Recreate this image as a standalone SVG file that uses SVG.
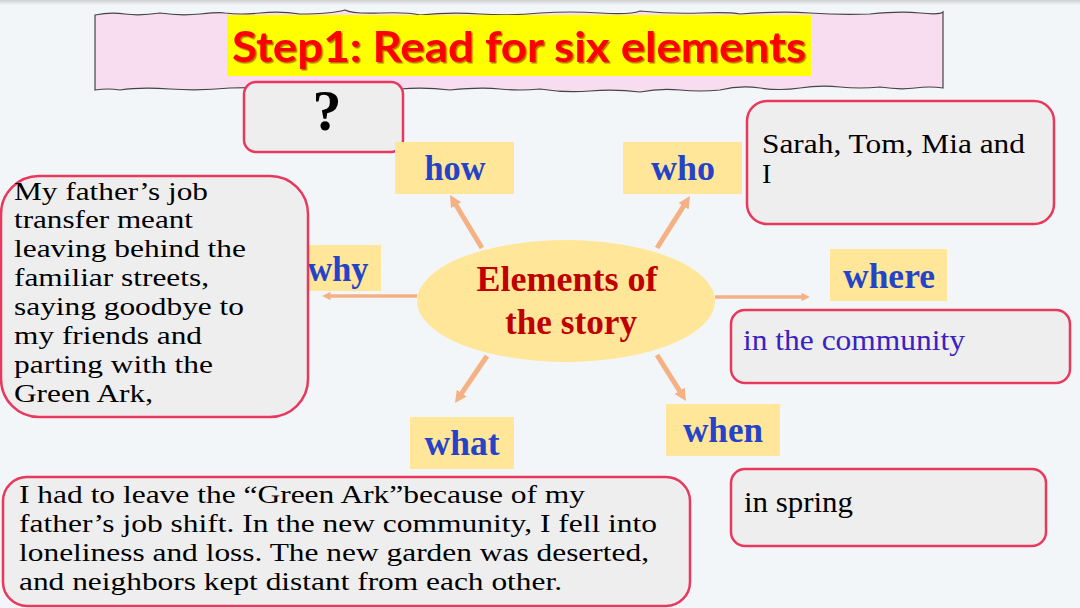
<svg xmlns="http://www.w3.org/2000/svg" width="1080" height="608" viewBox="0 0 1080 608">
<style>
.box{fill:#efeeef;stroke:#e8385e;stroke-width:2.5}
.lbl{fill:#ffe699}
.lt{font-family:'Liberation Serif','Times New Roman',serif;font-weight:bold;font-size:35px;fill:#2443c8;text-anchor:middle}
.bt{font-family:'Liberation Serif','Times New Roman',serif;fill:#000}
.s26{font-size:26px}
.s28{font-size:28px}
.s30{font-size:30px}
.arr{stroke:#f4b183;fill:none;stroke-linecap:butt}
</style>
<defs>
<marker id="ah" viewBox="0 0 10 10" refX="3" refY="5" markerWidth="2.4" markerHeight="2.4" orient="auto"><path d="M0,0 L10,5 L0,10 z" fill="#f4b183"/></marker>
<filter id="sh" x="-5%" y="-20%" width="110%" height="140%"><feDropShadow dx="1.5" dy="1.5" stdDeviation="0.6" flood-color="#7a0000" flood-opacity="0.55"/></filter>
<linearGradient id="tg" x1="0" y1="0" x2="0" y2="1"><stop offset="0" stop-color="#cfcfcf"/><stop offset="1" stop-color="#f3f6f9"/></linearGradient>
</defs>
<rect width="1080" height="608" fill="#f3f6f9"/>
<rect width="1080" height="5" fill="url(#tg)"/>
<g id="title">
<path d="M95,15 Q110,12 125,14 T160,13 Q180,16 200,14 T225,13 Q240,15 260,13 T300,14 Q330,14 345,10 Q352,14 380,13 T420,15 Q450,12 480,14 T540,13 Q570,11 600,13 T640,11 Q670,14 700,13 T740,14 Q780,11 810,13 T870,14 Q900,11 920,13 T943,12 L943,88 Q930,86 915,88 T880,87 Q860,89 840,87 T800,88 Q780,91 760,88 T720,90 Q700,92 680,90 T640,92 Q615,89 590,91 T540,89 Q520,91 500,89 T450,90 Q425,87 400,89 T350,88 Q320,91 290,89 T230,88 Q200,91 170,89 T120,90 Q108,88 95,90 Z" fill="#f8dcf0" stroke="#444" stroke-width="1.2"/>
<rect x="227" y="15" width="584" height="61" fill="#ffff00"/>
<text x="232" y="62" font-family="Lato,'Open Sans',sans-serif" font-weight="bold" font-size="42" fill="#ff0000" textLength="574" lengthAdjust="spacingAndGlyphs" filter="url(#sh)">Step1: Read for six elements</text>
</g>
<g id="connectors">
<line class="arr" x1="482" y1="248" x2="454.3" y2="202.2" stroke-width="5" marker-end="url(#ah)"/>
<line class="arr" x1="657" y1="248" x2="685.5" y2="203.1" stroke-width="5" marker-end="url(#ah)"/>
<line class="arr" x1="487" y1="356" x2="459.7" y2="396.1" stroke-width="5" marker-end="url(#ah)"/>
<line class="arr" x1="657" y1="355" x2="681.5" y2="393.9" stroke-width="5" marker-end="url(#ah)"/>
<line class="arr" x1="417" y1="296" x2="328" y2="296" stroke-width="3.5" marker-end="url(#ah)"/>
<line class="arr" x1="715" y1="297" x2="804" y2="297" stroke-width="3.5" marker-end="url(#ah)"/>
</g>
<g id="center">
<ellipse cx="566" cy="301" rx="149" ry="61" fill="#ffe699"/>
<text x="567" y="291" font-family="'Liberation Serif',serif" font-weight="bold" font-size="36" fill="#c00000" text-anchor="middle" textLength="181" lengthAdjust="spacingAndGlyphs">Elements of</text>
<text x="571" y="334" font-family="'Liberation Serif',serif" font-weight="bold" font-size="36" fill="#c00000" text-anchor="middle" textLength="132" lengthAdjust="spacingAndGlyphs">the story</text>
</g>
<g id="how-answer">
<rect class="box" x="244" y="82" width="159" height="70" rx="12"/>
<text x="327" y="130" font-family="'Liberation Serif',serif" font-weight="bold" font-size="58" text-anchor="middle" fill="#000">?</text>
</g>
<g id="how">
<rect class="lbl" x="395" y="142" width="119" height="52"/>
<text class="lt" x="455" y="180" textLength="61" lengthAdjust="spacingAndGlyphs">how</text>
</g>
<g id="who">
<rect class="lbl" x="623" y="142" width="119" height="52"/>
<text class="lt" x="683" y="180" textLength="64" lengthAdjust="spacingAndGlyphs">who</text>
</g>
<g id="who-answer">
<rect class="box" x="747" y="101" width="307" height="123" rx="20"/>
<text class="bt s28" x="762" y="153" textLength="263" lengthAdjust="spacingAndGlyphs">Sarah, Tom, Mia and</text>
<text class="bt s28" x="762" y="183">I</text>
</g>
<g id="why">
<rect class="lbl" x="304" y="245" width="77" height="46"/>
<text class="lt" x="338" y="281" textLength="61" lengthAdjust="spacingAndGlyphs">why</text>
</g>
<g id="why-answer">
<rect class="box" x="1" y="176" width="307" height="241" rx="38"/>
<text class="bt s26" x="14" y="200" textLength="194" lengthAdjust="spacingAndGlyphs">My father’s job</text>
<text class="bt s26" x="14" y="228" textLength="179" lengthAdjust="spacingAndGlyphs">transfer meant</text>
<text class="bt s26" x="14" y="257" textLength="232" lengthAdjust="spacingAndGlyphs">leaving behind the</text>
<text class="bt s26" x="14" y="286" textLength="195" lengthAdjust="spacingAndGlyphs">familiar streets,</text>
<text class="bt s26" x="14" y="315" textLength="230" lengthAdjust="spacingAndGlyphs">saying goodbye to</text>
<text class="bt s26" x="14" y="344" textLength="188" lengthAdjust="spacingAndGlyphs">my friends and</text>
<text class="bt s26" x="14" y="373" textLength="199" lengthAdjust="spacingAndGlyphs">parting with the</text>
<text class="bt s26" x="14" y="402" textLength="139" lengthAdjust="spacingAndGlyphs">Green Ark,</text>
</g>
<g id="where">
<rect class="lbl" x="830" y="249" width="117" height="52"/>
<text class="lt" x="889" y="288" textLength="92" lengthAdjust="spacingAndGlyphs">where</text>
</g>
<g id="where-answer">
<rect class="box" x="731" y="310" width="339" height="73" rx="14"/>
<text class="bt s30" x="743" y="350" style="fill:#3a23c0" textLength="222" lengthAdjust="spacingAndGlyphs">in the community</text>
</g>
<g id="when">
<rect class="lbl" x="666" y="404" width="114" height="52"/>
<text class="lt" x="723" y="442" textLength="80" lengthAdjust="spacingAndGlyphs">when</text>
</g>
<g id="when-answer">
<rect class="box" x="731" y="469" width="315" height="77" rx="14"/>
<text class="bt s30" x="744" y="512" textLength="109" lengthAdjust="spacingAndGlyphs">in spring</text>
</g>
<g id="what">
<rect class="lbl" x="410" y="417" width="104" height="52"/>
<text class="lt" x="462" y="455" textLength="75" lengthAdjust="spacingAndGlyphs">what</text>
</g>
<g id="what-answer">
<rect class="box" x="3" y="477" width="687" height="129" rx="24"/>
<text class="bt s26" x="19" y="503" textLength="566" lengthAdjust="spacingAndGlyphs">I had to leave the “Green Ark”because of my</text>
<text class="bt s26" x="19" y="532" textLength="638" lengthAdjust="spacingAndGlyphs">father’s job shift. In the new community, I fell into</text>
<text class="bt s26" x="19" y="561" textLength="630" lengthAdjust="spacingAndGlyphs">loneliness and loss. The new garden was deserted,</text>
<text class="bt s26" x="19" y="590" textLength="543" lengthAdjust="spacingAndGlyphs">and neighbors kept distant from each other.</text>
</g>
</svg>
